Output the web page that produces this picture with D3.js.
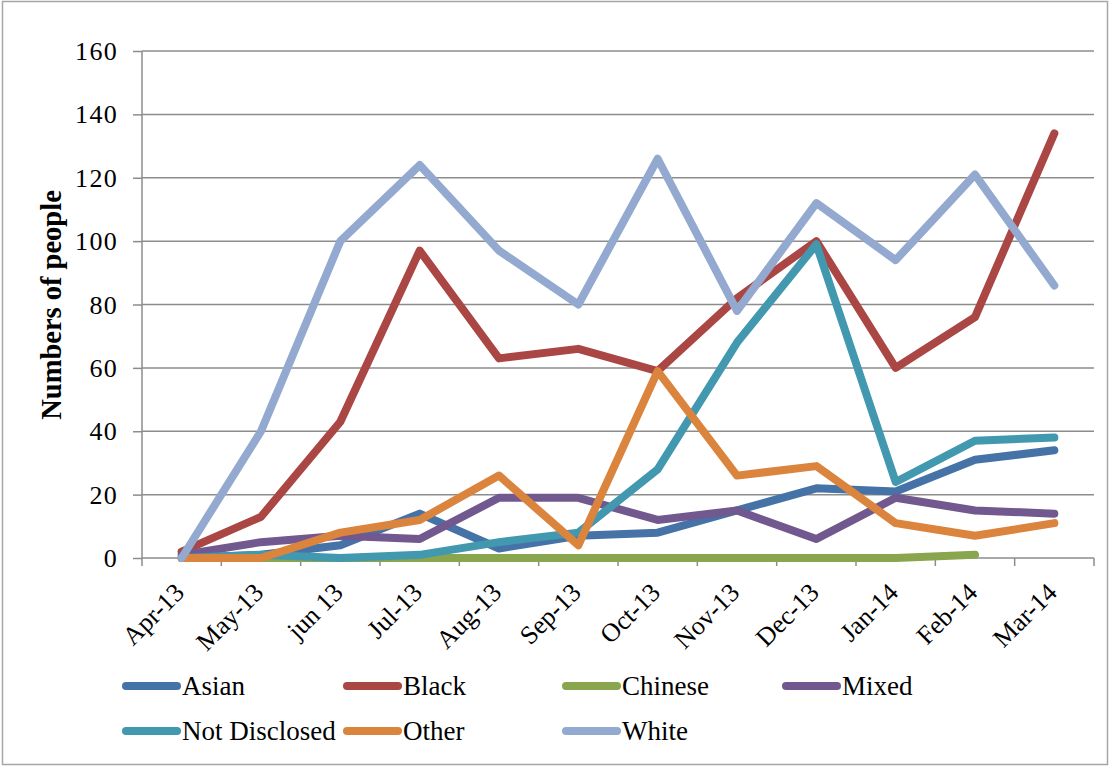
<!DOCTYPE html>
<html>
<head>
<meta charset="utf-8">
<script src="https://cdn.jsdelivr.net/npm/d3@7"></script>
<style>
  html, body { margin: 0; padding: 0; background: #fff; }
  svg { display: block; }
  text { font-family: "Liberation Serif", "Times New Roman", serif; fill: #000; }
</style>
</head>
<body>
<svg id="chart" width="1110" height="767"></svg>
<script>
const categories = ["Apr-13","May-13","jun 13","Jul-13","Aug-13","Sep-13","Oct-13","Nov-13","Dec-13","Jan-14","Feb-14","Mar-14"];
const asian        = [0, 1, 4, 14, 3, 7, 8, 15, 22, 21, 31, 34];
const black        = [2, 13, 43, 97, 63, 66, 59, 82, 100, 60, 76, 134];
const chinese      = [0, 0, 0, 0, 0, 0, 0, 0, 0, 0, 1, null];
const mixed        = [1, 5, 7, 6, 19, 19, 12, 15, 6, 19, 15, 14];
const notDisclosed = [0, 1, 0, 1, 5, 8, 28, 68, 99, 24, 37, 38];
const other        = [0, 0, 8, 12, 26, 4, 59, 26, 29, 11, 7, 11];
const white        = [0, 40, 100, 124, 97, 80, 126, 78, 112, 94, 121, 86];
const yTicks       = [0, 20, 40, 60, 80, 100, 120, 140, 160];
const seriesNames  = ["Asian","Black","Chinese","Mixed","Not Disclosed","Other","White"];
const seriesColors = ["#4572A7","#AA4643","#89A54E","#71588F","#4198AF","#DB843D","#93A9CF"];
const seriesValues = [asian, black, chinese, mixed, notDisclosed, other, white];

const svg = d3.select("#chart");
const mLeft = 142, mRight = 1094, mTop = 51, mBottom = 558;

// outer border
svg.append("rect").attr("x", 2.5).attr("y", 1.5).attr("width", 1105).attr("height", 763)
  .attr("fill", "none").attr("stroke", "#a6a6a6").attr("stroke-width", 1.5);

const x = d3.scaleBand().domain(categories).range([mLeft, mRight]).paddingInner(0).paddingOuter(0);
const y = d3.scaleLinear().domain([0, 160]).range([mBottom, mTop]);

// gridlines
svg.append("g").selectAll("line").data(yTicks.filter(d => d > 0)).join("line")
  .attr("x1", mLeft).attr("x2", mRight)
  .attr("y1", d => y(d)).attr("y2", d => y(d))
  .attr("stroke", "#8c8c8c").attr("stroke-width", 1.5);

// y axis
const yAxis = d3.axisLeft(y).tickValues(yTicks).tickSize(9).tickPadding(15);
const gy = svg.append("g").attr("transform", `translate(${mLeft},0)`).call(yAxis);
gy.select(".domain").attr("stroke", "#8c8c8c").attr("stroke-width", 1.5).attr("d", `M0,${mTop}V${mBottom}`);
gy.selectAll(".tick line").attr("stroke", "#8c8c8c").attr("stroke-width", 1.5);
gy.selectAll(".tick text").attr("font-family", "Liberation Serif").attr("font-size", 26)
  .attr("letter-spacing", 1.3).attr("fill", "#000").attr("dy", "0.33em");

// x axis ticks at category boundaries
const bounds = d3.range(categories.length + 1).map(i => mLeft + i * x.step());
svg.append("line").attr("x1", mLeft).attr("x2", mRight).attr("y1", mBottom).attr("y2", mBottom)
  .attr("stroke", "#8c8c8c").attr("stroke-width", 1.5);
svg.append("g").selectAll("line").data(bounds).join("line")
  .attr("x1", d => d).attr("x2", d => d).attr("y1", mBottom).attr("y2", mBottom + 8)
  .attr("stroke", "#8c8c8c").attr("stroke-width", 1.5);

// x labels
svg.append("g").selectAll("text").data(categories).join("text")
  .attr("transform", d => `translate(${x(d) + x.bandwidth() / 2 + 4},${mBottom + 36}) rotate(-45)`)
  .attr("text-anchor", "end")
  .attr("font-size", 26)
  .text(d => d);

// y title
svg.append("text")
  .attr("transform", `translate(61,305) rotate(-90)`)
  .attr("text-anchor", "middle")
  .attr("font-size", 28.5).attr("font-weight", "bold")
  .text("Numbers of people");

// lines
const cx = c => x(c) + x.bandwidth() / 2;
const line = d3.line()
  .defined(d => d.v !== null)
  .x(d => cx(d.c)).y(d => y(d.v));

seriesValues.forEach((vals, i) => {
  const pts = categories.map((c, j) => ({ c, v: vals[j] }));
  svg.append("path").datum(pts)
    .attr("d", line)
    .attr("fill", "none")
    .attr("stroke", seriesColors[i])
    .attr("stroke-width", 8)
    .attr("stroke-linejoin", "round")
    .attr("stroke-linecap", "round");
});

// legend
const legendPos = [[122,686],[343,686],[562,686],[782,686],[122,731],[343,731],[562,731]];
const lg = svg.append("g");
seriesNames.forEach((name, i) => {
  const [lx, ly] = legendPos[i];
  lg.append("line").attr("x1", lx + 4).attr("x2", lx + 55).attr("y1", ly).attr("y2", ly)
    .attr("stroke", seriesColors[i]).attr("stroke-width", 8).attr("stroke-linecap", "round");
  lg.append("text").attr("x", lx + 60).attr("y", ly + 9)
    .attr("font-size", 27).text(name);
});
</script>
</body>
</html>
